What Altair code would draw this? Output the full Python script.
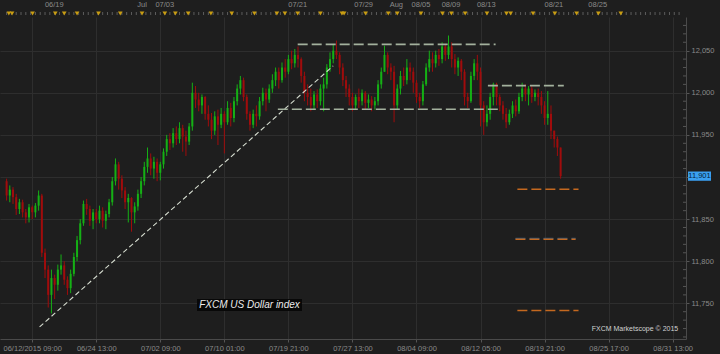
import altair as alt
import pandas as pd

# ---------------- data ----------------
first_open = 11895
closes = [
    11878, 11885, 11876, 11862, 11870, 11858, 11852, 11864, 11858, 11866,
    11878, 11810, 11790, 11760, 11780, 11772, 11790, 11795, 11778, 11768,
    11785, 11805, 11825, 11845, 11868, 11862, 11848, 11858, 11850, 11860,
    11848, 11856, 11870, 11895, 11915, 11898, 11884, 11870, 11875, 11858,
    11865, 11880, 11895, 11912, 11922, 11910, 11918, 11905, 11915, 11930,
    11945, 11940, 11952, 11945, 11958, 11948, 11942, 11960, 12000, 11992,
    11985, 11995, 11975, 11968, 11955, 11972, 11962, 11975, 11965, 11982,
    11970, 11990, 12005, 12015, 11995, 11975, 11962, 11975, 11972, 11990,
    12000, 11992, 12005, 12015, 12025, 12015, 12030, 12025, 12040, 12035,
    12045, 12040, 12020, 12000, 11995, 11985, 11998, 11990, 12005, 12010,
    12030, 12040, 12050, 12045, 12030, 12015, 12005, 11995, 11985, 11995,
    11990, 12000, 11988, 11992, 11985, 11990, 12010, 12025, 12045, 12030,
    12025, 11985, 12005, 12020, 12015, 12030, 12025, 12012, 11995, 11990,
    12010, 12030, 12040, 12035, 12045, 12040, 12055, 12045, 12055, 12040,
    12030, 12038, 12025, 11995, 11990, 12020, 12035, 12025, 11985, 11965,
    11975, 11995, 12010, 11995, 11985, 11975, 11965, 11975, 11985, 11978,
    11995, 12005, 11998, 12005, 11995, 12000, 11995, 11985, 11970, 11975,
    11955, 11945, 11935, 11901,
]
highs = [
    11898, 11890, 11888, 11880, 11874, 11873, 11862, 11868, 11866, 11869,
    11884, 11880, 11815, 11795, 11790, 11784, 11796, 11808, 11800, 11782,
    11790, 11810, 11830, 11850, 11872, 11874, 11866, 11862, 11862, 11866,
    11864, 11860, 11874, 11900, 11922, 11918, 11902, 11888, 11880, 11876,
    11870, 11885, 11900, 11918, 11935, 11928, 11924, 11922, 11918, 11934,
    11950, 11952, 11958, 11960, 11965, 11962, 11955, 11964, 12012, 12008,
    12000, 11998, 11996, 11985, 11976, 11978, 11980, 11982, 11978, 11990,
    11988, 11995, 12010, 12020, 12018, 11998, 11978, 11980, 11985, 11995,
    12006, 12005, 12010, 12022, 12030, 12030, 12036, 12040, 12045, 12050,
    12052, 12055, 12042, 12025, 12010, 12005, 12002, 12004, 12010, 12018,
    12034, 12048, 12058, 12062, 12048, 12035, 12020, 12010, 12000, 11998,
    12005, 12004, 12002, 11998, 11996, 11995, 12015, 12030, 12056, 12048,
    12035, 12032, 12010, 12026, 12030, 12040, 12036, 12030, 12015, 12000,
    12014, 12035, 12050, 12048, 12050, 12052, 12060, 12058, 12068, 12060,
    12046, 12042, 12040, 12028, 12000, 12025, 12040, 12045, 12030, 11990,
    11985, 12000, 12012, 12012, 11998, 11990, 11982, 11980, 11990, 11992,
    12000, 12012, 12010, 12008, 12008, 12004, 12005, 12002, 11990, 12002,
    11985, 11955, 11948, 11935,
]
lows = [
    11872, 11870, 11868, 11855, 11856, 11852, 11845, 11846, 11850, 11852,
    11860, 11805, 11780, 11745, 11738, 11755, 11765, 11784, 11772, 11760,
    11762, 11782, 11800, 11820, 11842, 11855, 11842, 11838, 11845, 11845,
    11840, 11838, 11852, 11866, 11890, 11885, 11875, 11862, 11846, 11835,
    11845, 11860, 11875, 11890, 11905, 11902, 11898, 11895, 11896, 11910,
    11925, 11932, 11935, 11938, 11940, 11930, 11925, 11938, 11955, 11982,
    11978, 11975, 11968, 11960, 11945, 11950, 11938, 11958, 11928, 11962,
    11960, 11965, 11985, 11998, 11990, 11968, 11955, 11958, 11960, 11968,
    11985, 11978, 11988, 12000, 12008, 12005, 12012, 12018, 12022, 12028,
    12030, 12030, 12012, 11990, 11985, 11978, 11980, 11982, 11985, 11978,
    12005, 12025, 12035, 12040, 12022, 12008, 11995, 11985, 11978, 11980,
    11982, 11985, 11980, 11982, 11978, 11980, 11985, 12005, 12025, 12022,
    12015, 11965, 11980, 11998, 12008, 12010, 12015, 12000, 11988, 11982,
    11985, 12008, 12025, 12025, 12030, 12032, 12035, 12038, 12040, 12030,
    12022, 12020, 12015, 11985, 11982, 11988, 12015, 12015, 11960, 11950,
    11960, 11968, 11985, 11985, 11978, 11968, 11958, 11962, 11970, 11972,
    11975, 11990, 11990, 11985, 11988, 11990, 11985, 11975, 11962, 11962,
    11945, 11935, 11925, 11898,
]

bottom_label_pos = [8, 28, 48, 68, 88, 108, 128, 148, 168, 188, 208]
bottom_labels = ["06/12/2015 09:00", "06/24 13:00", "07/02 09:00", "07/10 01:00",
                 "07/19 21:00", "07/27 13:00", "08/04 09:00", "08/12 05:00",
                 "08/19 21:00", "08/25 17:00", "08/31 13:00"]
price_ticks = [11750, 11800, 11850, 11900, 11950, 12000, 12050]
minor_price_ticks = [11710, 11720, 11730, 11740, 11760, 11770, 11780, 11790,
                     11810, 11820, 11830, 11840, 11860, 11870, 11880, 11890,
                     11910, 11920, 11930, 11940, 11960, 11970, 11980, 11990,
                     12010, 12020, 12030, 12040, 12060, 12070, 12080]
top_label_pos = [14.9, 42.3, 49.4, 90.9, 111.5, 121.7, 129.4, 138.8, 149.8, 170.9, 184.6]
top_labels = ["06/19", "Jul", "07/03", "07/21", "07/29", "Aug", "08/05", "08/09",
              "08/13", "08/21", "08/25"]
event_pos = [0.7, 1.7, 8.1, 15.2, 18.0, 22.0, 28.7, 35.5, 42.3, 49.4, 52.7, 56.7,
             63.8, 70.3, 77.4, 84.4, 86.9, 90.9, 98.0, 104.7, 105.4, 112.1, 119.2,
             122.0, 129.4, 136.1, 138.9, 143.2, 150.0, 156.1, 157.4, 164.4, 171.2,
             178.0, 184.8, 191.8]

# drawn levels (start bar, end bar, price)
res_t1 = [90.9, 84.7, 150.3]
res_t2 = [152.7, 153.4, 174.0]
res_p = [12057.5, 11980.5, 12008.5]
lvl_t1 = [159.5, 158.9, 159.5]
lvl_t2 = [178.6, 177.7, 178.6]
lvl_p = [11885.5, 11826.0, 11741.5]
trend_t = [10.3, 102.0]
trend_p = [11722.0, 12032.0]

# ---------------- tables ----------------
opens = [first_open] + closes[:-1]
last_price = closes[-1]
df = pd.DataFrame({"t": list(range(len(closes))), "o": opens, "c": closes})
df["h"] = [max(h, o, c) for h, o, c in zip(highs, opens, closes)]
df["l"] = [min(l, o, c) for l, o, c in zip(lows, opens, closes)]
df["col"] = ["#15b015" if c >= o else "#a00c0c" for o, c in zip(opens, closes)]

res_df = pd.DataFrame({"t1": res_t1, "t2": res_t2, "p": res_p})
lvl_df = pd.DataFrame({"t1": lvl_t1, "t2": lvl_t2, "p": lvl_p})
blue_df = pd.DataFrame({"t1": [lvl_t1[1]], "t2": [lvl_t2[1]], "p": [lvl_p[1]]})
trend_df = pd.DataFrame({"t1": [trend_t[0]], "t2": [trend_t[1]],
                         "p1": [trend_p[0]], "p2": [trend_p[1]]})
top_df = pd.DataFrame({"t": top_label_pos, "label": top_labels})
ev_df = pd.DataFrame({"t": event_pos})
tick_df = pd.DataFrame({"t": [i * 1.5 for i in range(141)]})
minor_df = pd.DataFrame({"p": minor_price_ticks})
last_df = pd.DataFrame({"p": [last_price]})

FONT = "Liberation Sans"
LABEL = "#8a8a8a"
GRID = "#2e2e2e"
xs = alt.Scale(domain=[-0.5, 210.6], nice=False, zero=False)
ys = alt.Scale(domain=[11707.6, 12090], nice=False, zero=False)

pos_arr = "[" + ",".join(str(v) for v in bottom_label_pos) + "]"
lab_arr = "[" + ",".join("'" + s + "'" for s in bottom_labels) + "]"

x_axis = alt.Axis(values=bottom_label_pos,
                  labelExpr=f"{lab_arr}[indexof({pos_arr}, datum.value)]",
                  grid=True, gridColor=GRID, tickSize=3, tickColor="#555555",
                  domainColor="#4a4a4a", labelColor=LABEL, labelFont=FONT,
                  labelFontSize=7.5, labelPadding=2, labelOverlap=False,
                  labelBound=False, labelFlush=False)
# the axis label hidden under the last-price box is left blank
y_axis = alt.Axis(orient="right", values=price_ticks, format=",.0f",
                  labelExpr=f"abs(datum.value - {last_price}) < 8 ? '' : datum.label",
                  grid=True, gridColor=GRID,
                  tickSize=3, tickColor="#555555", domainColor="#4a4a4a",
                  labelColor=LABEL, labelFont=FONT, labelFontSize=7.5,
                  labelPadding=2, labelOverlap=False, labelFlush=False)


def X(f, **kw):
    return alt.X(f, type="quantitative", scale=xs, title=None, **kw)


def Y(f, **kw):
    return alt.Y(f, type="quantitative", scale=ys, title=None, **kw)


base = alt.Chart(df)
wicks = base.mark_rule(strokeWidth=1).encode(
    x=X("t", axis=x_axis), y=Y("l", axis=y_axis), y2="h:Q",
    color=alt.Color("col:N", scale=None))
bodies = base.mark_bar(size=2).encode(
    x=X("t"), y=Y("o"), y2="c:Q", color=alt.Color("col:N", scale=None))

res = alt.Chart(res_df).mark_rule(color="#a3b19d", strokeWidth=1.6,
                                  strokeDash=[10, 4]).encode(
    x=X("t1"), x2="t2:Q", y=Y("p"))
blue = alt.Chart(blue_df).mark_rule(color="#2b5f91", strokeWidth=1,
                                    strokeDash=[10, 4], yOffset=-1).encode(
    x=X("t1"), x2="t2:Q", y=Y("p"))
lvls = alt.Chart(lvl_df).mark_rule(color="#c4681f", strokeWidth=1.5,
                                   strokeDash=[10, 4]).encode(
    x=X("t1"), x2="t2:Q", y=Y("p"))
trend = alt.Chart(trend_df).mark_rule(color="#d6ddd0", strokeWidth=1.1,
                                      strokeDash=[5, 3]).encode(
    x=X("t1"), x2="t2:Q", y=Y("p1"), y2="p2:Q")

minor = alt.Chart(minor_df).mark_rule(color="#555555", strokeWidth=1,
                                      clip=False).encode(
    x=alt.value(683), x2=alt.value(686), y=Y("p"))

top_text = alt.Chart(top_df).mark_text(font=FONT, fontSize=7.5, color=LABEL,
                                       baseline="middle", align="center",
                                       clip=False).encode(
    x=X("t"), y=alt.value(-12), text="label:N")
top_ticks = alt.Chart(tick_df).mark_rule(color="#5c5c5c", strokeWidth=1,
                                         clip=False).encode(
    x=X("t"), y=alt.value(-5), y2=alt.value(-2))
events = alt.Chart(ev_df).mark_point(shape="triangle-down", filled=True,
                                     size=22, color="#c99d12", opacity=1,
                                     clip=False).encode(
    x=X("t"), y=alt.value(-3.5))

last_box = alt.Chart(last_df).transform_calculate(
    lo="datum.p - 5.5", hi="datum.p + 5.5").mark_rect(
    color="#3a9ff0", clip=False).encode(
    x=alt.value(688), x2=alt.value(711), y=Y("lo:Q"), y2="hi:Q")
last_text = alt.Chart(last_df).mark_text(font=FONT, fontSize=7.5, color="#071f3a",
                                         align="center", baseline="middle",
                                         clip=False).encode(
    x=alt.value(699.5), y=Y("p"), text=alt.Text("p:Q", format=",.0f"))

title_df = pd.DataFrame({"label": ["FXCM US Dollar index"]})
title_box = alt.Chart(title_df).mark_rect(color="#080808").encode(
    x=alt.value(197), x2=alt.value(302), y=alt.value(282), y2=alt.value(294))
title_text = alt.Chart(title_df).mark_text(font=FONT, fontSize=10, fontStyle="italic",
                                           color="#ececec", align="center",
                                           baseline="middle").encode(
    x=alt.value(249.5), y=alt.value(288), text="label:N")
copy_df = pd.DataFrame({"label": ["FXCM Marketscope © 2015"]})
copy_text = alt.Chart(copy_df).mark_text(font=FONT, fontSize=7, color="#d2d2d2",
                                         align="center", baseline="middle").encode(
    x=alt.value(635), y=alt.value(312), text="label:N")

chart = alt.layer(
    wicks, bodies, trend, res, blue, lvls, minor, top_ticks, events, top_text,
    title_box, title_text, copy_text, last_box, last_text,
).properties(
    width=686, height=322,
    autosize=alt.AutoSizeParams(type="none"),
    padding={"left": 0, "top": 17, "right": 34, "bottom": 15},
    background="#1e1e1e",
).configure_view(strokeWidth=0, fill="#1e1e1e")

chart.save("out.html", embed_options={"renderer": "svg", "actions": False})
